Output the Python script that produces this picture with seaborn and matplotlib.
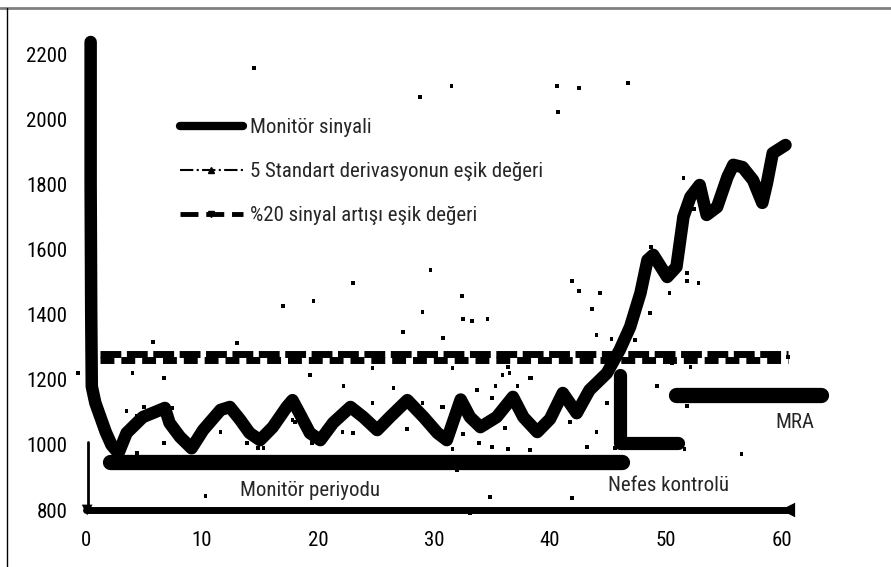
import matplotlib
matplotlib.use("Agg")
import matplotlib.pyplot as plt
from matplotlib.lines import Line2D
import seaborn as sns

# Monitör sinyali (dakika, sinyal)
sig_x = [0.4, 0.4, 0.45, 0.5, 0.8, 1.3, 1.7, 2.2, 2.8, 3.5, 4.9, 6.4, 6.8, 7.2, 8.1, 9.1,
         10.1, 11.6, 12.4, 13.3, 14.1, 15.0, 16.1, 17.3, 17.8, 18.4, 19.3, 20.2, 21.3,
         22.8, 23.9, 25.1, 26.2, 27.7, 29.1, 30.3, 31.1, 32.3, 33.1, 34.0, 35.4, 36.8,
         37.7, 38.9, 40.0, 41.1, 42.3, 43.4, 44.9, 46.0, 46.9, 47.8, 48.4, 48.9, 50.1,
         50.9, 51.5, 52.1, 52.9, 53.5, 54.4, 55.3, 55.8, 56.6, 57.5, 58.3, 58.7, 59.2, 60.3]
sig_y = [2240, 1800, 1400, 1180, 1130, 1080, 1040, 1000, 975, 1037, 1086, 1108, 1114, 1068,
         1025, 990, 1046, 1108, 1117, 1077, 1037, 1015, 1055, 1117, 1138, 1098, 1037, 1015,
         1068, 1117, 1086, 1046, 1086, 1138, 1086, 1037, 1015, 1140, 1086, 1055, 1086, 1148,
         1086, 1040, 1080, 1160, 1098, 1169, 1221, 1292, 1363, 1468, 1569, 1585, 1517, 1548,
         1702, 1763, 1800, 1708, 1732, 1825, 1862, 1855, 1815, 1745, 1806, 1898, 1923]

# esik degerleri
thr_x = [1.2, 60.5]
sd5_y = [1280, 1280]
pct20_y = [1262, 1262]

# periyotlar
monitor_x = [2.1, 46.2]
monitor_y = [948, 948]
nefes_x = [46.0, 46.0, 51.0]
nefes_y = [1215, 1006, 1006]
mra_x = [50.9, 63.4]
mra_y = [1154, 1154]

base_x = [0, 60.5]
base_y = [800, 800]
start_x = [0.15, 0.15]
start_y = [800, 1010]

# dagınık noktalar
dot_x = [14.5, 28.8, 31.5, 40.6, 42.5, 46.7, 40.7, 29.7, 32.4, 41.9, 42.5, 44.3, 43.6, 50.3,
         51.8, 51.8, 52.8, 48.6, 32.5, 33.3, 34.6, 44.0, 45.3, 30.8, 47.3, 50.5, 52.1, 36.4,
         35.9, 36.5, 38.4, 31.6, 49.2, 35.3, 37.2, 33.7, 41.7, 44.0, 44.9, 51.8, 43.2, 45.6,
         51.6, 56.5, 33.1, 34.8, 41.9, 51.5, 52.4, 48.7, 5.8, 13.0, 17.0, 19.6, 23.0, 29.0,
         27.3, 4.0, 6.7, 19.3, 24.7, -0.7, 22.2, 26.5, 3.5, 4.4, 5.0, 7.4, 10.0, 11.6, 14.0,
         17.8, 23.6, 30.8, 4.4, 6.7, 13.9, 14.8, 15.3, 23.0, 19.5, 10.3, 38.3, 35.0, 24.7,
         29.0, 30.7, 18.0, 22.1, 27.7, 32.5, 36.1, 35.0, 38.3, 32.0, 31.6, 36.4, 33.9, 60.5]
dot_y = [2160, 2071, 2105, 2105, 2098, 2114, 2025, 1538, 1458, 1505, 1474, 1468, 1418, 1468,
         1529, 1505, 1498, 1406, 1388, 1382, 1388, 1338, 1326, 1329, 1323, 1252, 1240, 1240,
         1215, 1222, 1206, 1237, 1182, 1182, 1182, 1169, 1071, 1040, 1129, 1120, 994, 991,
         988, 972, 791, 840, 837, 1822, 1726, 1609, 1317, 1314, 1428, 1443, 1498, 1409,
         1348, 1222, 1206, 1215, 1237, 1222, 1182, 1175, 1105, 1089, 1117, 1114, 1055, 1040,
         1055, 1077, 1086, 1117, 975, 1006, 1006, 991, 991, 1037, 1006, 843, 1206, 1145, 1129,
         1129, 1117, 1071, 1040, 1049, 1034, 1052, 994, 985, 923, 988, 988, 1006, 1271]

x_ticks = [0, 10, 20, 30, 40, 50, 60]
y_ticks = [800, 1000, 1200, 1400, 1600, 1800, 2000, 2200]

labels = ["Monitör sinyali", "5 Standart derivasyonun eşik değeri", "%20 sinyal artışı eşik değeri"]

sns.set_style("white")
plt.rcParams["font.family"] = ["Roboto Condensed", "Archivo Narrow", "DejaVu Sans"]

fig = plt.figure(figsize=(8.91, 5.67), dpi=100)
ax = fig.add_axes([0.0835, 0.0776, 0.8593, 0.8598])

k = "black"
sns.lineplot(x=start_x, y=start_y, sort=False, estimator=None, color=k, lw=2, ax=ax)
sns.lineplot(x=base_x, y=base_y, sort=False, estimator=None, color=k, lw=5, ax=ax)
sns.lineplot(x=thr_x, y=sd5_y, sort=False, estimator=None, color=k, lw=5, ax=ax)
ax.lines[-1].set_dashes((3, 0.8))
sns.lineplot(x=thr_x, y=pct20_y, sort=False, estimator=None, color=k, lw=5, ax=ax)
ax.lines[-1].set_dashes((2, 1))
for xs, ys, w in [(monitor_x, monitor_y, 11), (nefes_x, nefes_y, 9.5), (mra_x, mra_y, 11)]:
    sns.lineplot(x=xs, y=ys, sort=False, estimator=None, color=k, lw=w, ax=ax)
    ax.lines[-1].set_solid_capstyle("round")
sns.lineplot(x=sig_x, y=sig_y, sort=False, estimator=None, color=k, lw=9, ax=ax)
ax.lines[-1].set_solid_capstyle("round")
ax.lines[-1].set_solid_joinstyle("round")
sns.scatterplot(x=dot_x, y=dot_y, marker="s", s=7, color=k, edgecolor="none", ax=ax)
sns.scatterplot(x=[60.5], y=[800], marker="<", s=110, color=k, edgecolor="none", ax=ax)
sns.scatterplot(x=[0.1], y=[800], marker="v", s=60, color=k, edgecolor="none", ax=ax)

ax.set_xlim(-1, 65)
ax.set_ylim(760, 2260)
ax.set_xticks(x_ticks)
ax.set_yticks(y_ticks)
ax.tick_params(axis="both", labelsize=15, colors=k, width=3)
ax.tick_params(axis="y", length=4, pad=1)
ax.tick_params(axis="x", length=3, pad=3)
for s in ax.spines.values():
    s.set_visible(False)

ax.text(19.3, 861, "Monitör periyodu", fontsize=15, ha="center", va="center")
ax.text(50.2, 876, "Nefes kontrolü", fontsize=15, ha="center", va="center")
ax.text(61.1, 1068, "MRA", fontsize=15, ha="center", va="center")

handles = [
    Line2D([], [], color=k, lw=6),
    Line2D([], [], color=k, lw=1.5, ls="-.", marker="^", markersize=4, markevery=[1]),
    Line2D([], [], color=k, lw=3.5, ls="--", marker="v", markersize=4, markevery=[1]),
]
ax.legend(handles, labels, loc="upper left", bbox_to_anchor=(180 / 891, 1 - 118 / 567),
          bbox_transform=fig.transFigure, frameon=False, fontsize=15, handlelength=3,
          handletextpad=0.35, labelspacing=1.2, borderpad=0, borderaxespad=0)

# cerceve
fig.add_artist(Line2D([0, 1], [1 - 7.5 / 567] * 2, color="#808080", lw=2))
fig.add_artist(Line2D([6.5 / 891] * 2, [0, 1 - 7.5 / 567], color=k, lw=1))

fig.savefig("out.png", dpi=100)
